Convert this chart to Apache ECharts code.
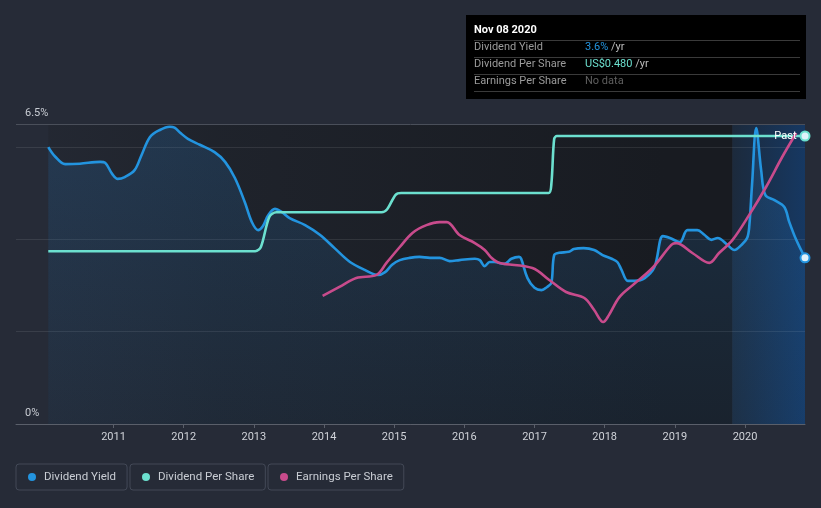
<!DOCTYPE html>
<html>
<head>
<meta charset="utf-8">
<script src="https://cdn.jsdelivr.net/npm/echarts@6/dist/echarts.min.js"></script>
<style>
html,body{margin:0;padding:0;background:#262b37;}
#c{width:821px;height:508px;}
</style>
</head>
<body>
<div id="c"></div>
<script>
// ---- data (decimal year, value) ----
const yearTicks = [2011, 2012, 2013, 2014, 2015, 2016, 2017, 2018, 2019, 2020];
const yieldTickLabels = { 0: '0%', 6.5: '6.5%' };

// Dividend yield, %
const dividendYield = [
  [2010.07, 6.00], [2010.17, 5.79], [2010.31, 5.63], [2010.52, 5.64], [2010.81, 5.68],
  [2010.88, 5.66], [2010.98, 5.42], [2011.06, 5.31], [2011.16, 5.35], [2011.30, 5.50],
  [2011.40, 5.83], [2011.52, 6.22], [2011.66, 6.37], [2011.80, 6.44], [2011.87, 6.42],
  [2011.95, 6.31], [2012.06, 6.18], [2012.23, 6.05], [2012.44, 5.89], [2012.59, 5.68],
  [2012.73, 5.33], [2012.87, 4.81], [2012.97, 4.38], [2013.06, 4.20], [2013.13, 4.29],
  [2013.20, 4.51], [2013.30, 4.66], [2013.40, 4.59], [2013.51, 4.46], [2013.73, 4.31],
  [2013.94, 4.10], [2014.15, 3.81], [2014.37, 3.51], [2014.58, 3.34], [2014.77, 3.23],
  [2014.87, 3.29], [2014.97, 3.45], [2015.08, 3.55], [2015.22, 3.60], [2015.36, 3.62],
  [2015.51, 3.60], [2015.65, 3.60], [2015.79, 3.53], [2015.93, 3.55], [2016.15, 3.58],
  [2016.22, 3.55], [2016.29, 3.42], [2016.36, 3.51], [2016.43, 3.51], [2016.57, 3.47],
  [2016.67, 3.58], [2016.78, 3.62], [2016.81, 3.58], [2016.90, 3.16], [2017.00, 2.95],
  [2017.10, 2.90], [2017.18, 2.97], [2017.24, 3.06], [2017.28, 3.66], [2017.35, 3.71],
  [2017.49, 3.73], [2017.56, 3.79], [2017.70, 3.81], [2017.85, 3.77], [2017.97, 3.66],
  [2018.10, 3.58], [2018.18, 3.51], [2018.24, 3.34], [2018.33, 3.10], [2018.43, 3.10],
  [2018.57, 3.16], [2018.71, 3.40], [2018.83, 4.07], [2018.93, 4.03], [2019.07, 3.94],
  [2019.18, 4.20], [2019.32, 4.20], [2019.42, 4.10], [2019.52, 3.99], [2019.61, 4.03],
  [2019.75, 3.88], [2019.85, 3.77], [2019.95, 3.88], [2020.03, 4.03], [2020.06, 4.27],
  [2020.10, 5.18], [2020.16, 6.41], [2020.23, 5.50], [2020.29, 4.96], [2020.42, 4.85],
  [2020.56, 4.70], [2020.63, 4.38], [2020.73, 3.99], [2020.855, 3.6]
];

// Dividend per share, US$
const dividendPerShare = [
  [2010.07, 0.288], [2013.02, 0.288], [2013.10, 0.295], [2013.22, 0.345], [2013.32, 0.353],
  [2014.82, 0.353], [2014.90, 0.358], [2015.02, 0.382], [2015.10, 0.385],
  [2017.20, 0.385], [2017.24, 0.40], [2017.28, 0.475], [2017.32, 0.48], [2020.855, 0.48]
];

// Earnings per share (relative scale)
const earningsPerShare = [
  [2013.98, 0.427], [2014.22, 0.457], [2014.46, 0.487], [2014.75, 0.497], [2014.89, 0.537],
  [2015.08, 0.590], [2015.26, 0.637], [2015.46, 0.663], [2015.65, 0.673], [2015.75, 0.673],
  [2015.93, 0.630], [2016.15, 0.603], [2016.29, 0.580], [2016.39, 0.553], [2016.50, 0.537],
  [2016.97, 0.520], [2017.21, 0.480], [2017.45, 0.440], [2017.71, 0.420], [2017.85, 0.380],
  [2017.98, 0.340], [2018.06, 0.363], [2018.21, 0.423], [2018.40, 0.463], [2018.68, 0.520],
  [2018.95, 0.597], [2019.02, 0.603], [2019.25, 0.570], [2019.49, 0.537], [2019.63, 0.570],
  [2019.82, 0.613], [2020.06, 0.697], [2020.30, 0.790], [2020.53, 0.890], [2020.73, 0.970]
];

const tooltipDate = 'Nov 08 2020';
const pastStart = 2019.82;

const C_Y = '#2394df', C_D = '#6ce0cf', C_E = '#c84b8c';

const chart = echarts.init(document.getElementById('c'), null, { renderer: 'canvas' });

const lastY = dividendYield[dividendYield.length - 1];
const lastD = dividendPerShare[dividendPerShare.length - 1];

function withEndMarker(data, color) {
  return data.map((p, i) => {
    if (i !== data.length - 1) return { value: p, symbol: 'none' };
    return {
      value: p, symbol: 'circle', symbolSize: 9,
      itemStyle: { color: '#dff2fb', borderColor: color, borderWidth: 2 }
    };
  });
}

const xMin = 2009.61, xMax = 2020.855;

const legendBase = {
  top: 464, orient: 'horizontal', icon: 'circle', itemWidth: 8, itemHeight: 8,
  padding: [7, 11, 7, 12], borderColor: '#434957', borderWidth: 1, borderRadius: 3,
  textStyle: { color: '#c9cdd4', fontSize: 11.5, fontFamily: 'Roboto', padding: [0, 0, 0, 3] }
};

chart.setOption({
  backgroundColor: '#262b37',
  animation: false,
  grid: { left: 16, right: 16, top: 124, bottom: 84, containLabel: false },
  legend: [
    Object.assign({}, legendBase, { left: 16, data: ['Dividend Yield'] }),
    Object.assign({}, legendBase, { left: 130, data: ['Dividend Per Share'] }),
    Object.assign({}, legendBase, { left: 268, data: ['Earnings Per Share'] })
  ],
  xAxis: {
    type: 'value', min: xMin, max: xMax,
    axisLine: { show: true, lineStyle: { color: '#5a5f6a', width: 1 } },
    axisTick: { show: true, customValues: yearTicks, length: 4, lineStyle: { color: '#5a5f6a' } },
    axisLabel: { customValues: yearTicks, color: '#d0d3d9', fontSize: 11, fontFamily: 'Roboto', margin: 8, formatter: v => String(v) },
    splitLine: { show: false }
  },
  yAxis: [
    {
      type: 'value', min: 0, max: 6.5, interval: 2, position: 'left', z: 1,
      axisLine: { show: false }, axisTick: { show: false },
      axisLabel: {
        inside: true, margin: 9, color: '#c9cdd4', fontSize: 11, fontFamily: 'Roboto',
        verticalAlign: 'bottom', padding: [0, 0, 5, 0],
        formatter: v => yieldTickLabels[v] || ''
      },
      splitLine: { show: true, lineStyle: { color: ['#5a5f6a', 'rgba(255,255,255,0.09)', 'rgba(255,255,255,0.09)', 'rgba(255,255,255,0.09)', '#4a4f5a'], width: 1 } }
    },
    { type: 'value', min: 0, max: 0.5, show: false, splitLine: { show: false } },
    { type: 'value', min: 0, max: 1.0, show: false, splitLine: { show: false } }
  ],
  series: [
    {
      name: 'Dividend Yield', type: 'line', yAxisIndex: 0, smooth: 0.35, showSymbol: true,
      symbol: 'none', color: C_Y,
      lineStyle: { width: 2.6, color: C_Y },
      areaStyle: {
        color: new echarts.graphic.LinearGradient(0, 0, 0, 1, [
          { offset: 0, color: 'rgba(40,130,210,0.28)' },
          { offset: 1, color: 'rgba(40,130,210,0.10)' }
        ])
      },
      data: withEndMarker(dividendYield, C_Y),
      markArea: {
        silent: true, z: -1,
        data: [
          [{ xAxis: dividendYield[0][0], yAxis: 0, itemStyle: {
              color: new echarts.graphic.LinearGradient(0, 0, 1, 0, [
                { offset: 0, color: 'rgba(33,37,46,0.55)' },
                { offset: 0.25, color: 'rgba(30,34,42,0.9)' },
                { offset: 0.9, color: 'rgba(24,27,33,1)' },
                { offset: 1, color: 'rgba(24,27,33,1)' }
              ]) } }, { xAxis: pastStart, yAxis: 6.5 }],
          [{ xAxis: pastStart, yAxis: 0, itemStyle: {
              color: new echarts.graphic.LinearGradient(0, 0, 1, 0, [
                { offset: 0, color: 'rgba(28,42,60,1)' },
                { offset: 1, color: 'rgba(22,56,98,1)' }
              ]) } }, { xAxis: xMax, yAxis: 6.5 }]
        ]
      },
      z: 2
    },
    {
      name: 'Dividend Per Share', type: 'line', yAxisIndex: 1, smooth: 0.3, showSymbol: true,
      symbol: 'none', color: C_D,
      lineStyle: { width: 2.6, color: C_D },
      data: withEndMarker(dividendPerShare, C_D),
      markPoint: {
        z: 10, silent: true, symbol: 'circle', symbolSize: 1,
        itemStyle: { color: 'rgba(0,0,0,0)' },
        label: { show: true, position: 'left', distance: 8, formatter: 'Past', color: '#ffffff', fontSize: 11, fontFamily: 'Roboto' },
        data: [{ coord: lastD }]
      },
      z: 3
    },
    {
      name: 'Earnings Per Share', type: 'line', yAxisIndex: 2, smooth: 0.35, showSymbol: false,
      symbol: 'none', color: C_E,
      lineStyle: { width: 2.6, color: C_E },
      data: earningsPerShare,
      z: 4
    }
  ],
  graphic: [
    {
      type: 'group', left: 466, top: 15,
      children: [
        { type: 'rect', shape: { x: 0, y: 0, width: 340, height: 84 }, style: { fill: '#000000' } },
        { type: 'text', x: 8, y: 10, style: { text: tooltipDate, fill: '#ffffff', font: 'bold 11px Roboto' } },
        { type: 'line', shape: { x1: 8, y1: 25.5, x2: 334, y2: 25.5 }, style: { stroke: '#3a3a3a', lineWidth: 1 } },
        { type: 'text', x: 8, y: 27, style: { text: 'Dividend Yield', fill: '#9b9b9b', font: '11px Roboto' } },
        { type: 'text', x: 119, y: 27, style: { text: '{a|' + lastY[1].toFixed(1) + '%}{b| /yr}', rich: { a: { fill: '#2394df', font: '11px Roboto' }, b: { fill: '#bdbdbd', font: '11px Roboto' } } } },
        { type: 'line', shape: { x1: 8, y1: 42.5, x2: 334, y2: 42.5 }, style: { stroke: '#3a3a3a', lineWidth: 1 } },
        { type: 'text', x: 8, y: 44, style: { text: 'Dividend Per Share', fill: '#9b9b9b', font: '11px Roboto' } },
        { type: 'text', x: 119, y: 44, style: { text: '{a|US$' + lastD[1].toFixed(3) + '}{b| /yr}', rich: { a: { fill: '#6ce0cf', font: '11px Roboto' }, b: { fill: '#bdbdbd', font: '11px Roboto' } } } },
        { type: 'line', shape: { x1: 8, y1: 59.5, x2: 334, y2: 59.5 }, style: { stroke: '#3a3a3a', lineWidth: 1 } },
        { type: 'text', x: 8, y: 61, style: { text: 'Earnings Per Share', fill: '#9b9b9b', font: '11px Roboto' } },
        { type: 'text', x: 119, y: 61, style: { text: 'No data', fill: '#5f5f5f', font: '11px Roboto' } },
        { type: 'line', shape: { x1: 8, y1: 76.5, x2: 334, y2: 76.5 }, style: { stroke: '#3a3a3a', lineWidth: 1 } }
      ]
    }
  ]
});
</script>
</body>
</html>
